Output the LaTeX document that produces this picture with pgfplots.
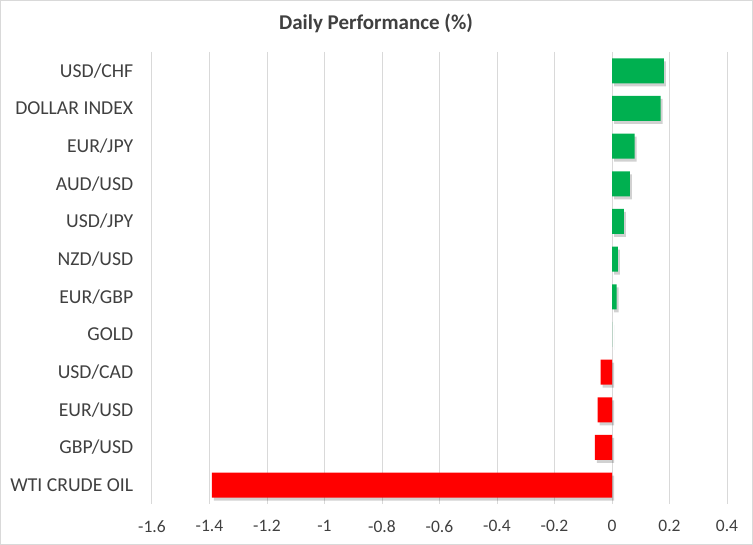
\documentclass[border=0pt]{standalone}
\usepackage{pgfplots}
\pgfplotsset{compat=1.18}
\usepackage{fontspec}
\setmainfont{Carlito}
\definecolor{pgreen}{HTML}{00B050}
\definecolor{pred}{HTML}{FF0000}
\definecolor{gridc}{HTML}{D9D9D9}
\definecolor{txt}{HTML}{404040}
\begin{document}
\begin{tikzpicture}[x=1pt,y=1pt]
\useasboundingbox (0,0) rectangle (753,545);
\draw[gridc, line width=1pt] (0.5,0.5) rectangle (752.5,544.5);
\node[font=\fontsize{21}{24}\selectfont\bfseries, text=txt] at (376,522) {Daily Performance (\%)};
\begin{axis}[
  at={(152pt,41pt)}, anchor=south west,
  width=575pt, height=452pt, scale only axis,
  xbar, bar width=25pt,
  xmin=-1.6, xmax=0.4,
  ymin=-0.5, ymax=11.5, y dir=reverse,
  xtick={-1.6,-1.4,...,0.41},
  xticklabels={-1.6,-1.4,-1.2,-1,-0.8,-0.6,-0.4,-0.2,0,0.2,0.4},
  ytick={0,...,11},
  yticklabels={USD/CHF,DOLLAR INDEX,EUR/JPY,AUD/USD,USD/JPY,NZD/USD,EUR/GBP,GOLD,USD/CAD,EUR/USD,GBP/USD,WTI CRUDE OIL},
  xmajorgrids, major grid style={gridc, line width=1pt},
  axis line style={draw=none},
  tick style={draw=none},
  xticklabel style={font=\fontsize{17.5}{20}\selectfont, text=txt, yshift=-13pt},
  yticklabel style={font=\fontsize{19.7}{22}\selectfont, text=txt, xshift=-11pt},
  /pgf/number format/assume math mode=true,
  shadowed/.style={preaction={fill=black, opacity=0.18, transform canvas={xshift=2pt,yshift=-3pt}}},
]
\addplot[xbar, bar shift=0pt, fill=pgreen, draw=none, shadowed] coordinates {
(0.180,0) (0.169,1) (0.079,2) (0.062,3) (0.041,4) (0.020,5) (0.016,6) (0,7)
};
\addplot[xbar, bar shift=0pt, fill=pred, draw=none, shadowed] coordinates {
(-0.040,8) (-0.050,9) (-0.060,10) (-1.392,11)
};
\end{axis}
\end{tikzpicture}
\end{document}
